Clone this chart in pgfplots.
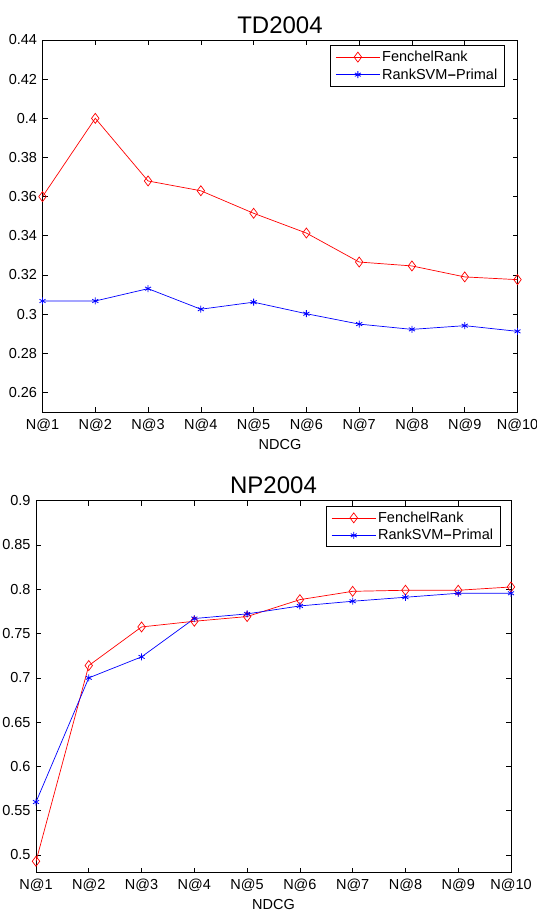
\documentclass[border=0pt]{standalone}
\usepackage{fontspec}
\setmainfont{Liberation Sans}
\usepackage{pgfplots}
\pgfplotsset{compat=1.18}

\pgfplotsset{
  ndcgstyle/.style={
    scale only axis,
    width=475bp, height=372bp,
    xmin=1, xmax=10,
    xtick={1,...,10},
    xticklabels={N@1,N@2,N@3,N@4,N@5,N@6,N@7,N@8,N@9,N@10},
    tick align=inside,
    major tick length=5bp,
    tick style={black, line width=0.6bp},
    axis line style={line width=0.9bp},
    /pgf/number format/assume math mode=true,
    yticklabel style={/pgf/number format/fixed, /pgf/number format/precision=2, xshift=-2bp},
    xticklabel style={yshift=-3bp},
    tick label style={font=\fontsize{14.5bp}{16bp}\selectfont},
    label style={font=\fontsize{14.5bp}{16bp}\selectfont},
    title style={font=\fontsize{24bp}{26bp}\selectfont, yshift=-3bp},
    xlabel={NDCG},
    xlabel style={yshift=-1bp},
    legend style={draw=black, line width=0.9bp, font=\fontsize{14.5bp}{17bp}\selectfont,
      inner xsep=5bp, inner ysep=3.5bp, row sep=1.5bp},
    legend cell align=left,
    legend image code/.code={
      \draw[mark repeat=2, mark phase=2, #1] plot coordinates {(0bp,0bp) (22bp,0bp) (44bp,0bp)};
    },
  },
  fenchel/.style={color=red, line width=0.7bp, mark=diamond, mark size=5bp, mark options={solid, line width=0.7bp}},
  ranksvm/.style={color=blue, line width=0.7bp, mark=asterisk, mark size=3.5bp, mark options={solid, line width=0.8bp}},
}

\begin{document}
\begin{tikzpicture}
\useasboundingbox (0bp,0bp) rectangle (537bp,-911bp);

\begin{axis}[ndcgstyle,
  at={(42.5bp,-412bp)}, anchor=south west,
  title={TD2004},
  ymin=0.25, ymax=0.44,
  ytick={0.26,0.28,0.30,0.32,0.34,0.36,0.38,0.40,0.42,0.44},
  legend style={at={(axis description cs:0.973,0.986)}, anchor=north east},
]
\addplot[fenchel] coordinates {
  (1,0.360)(2,0.400)(3,0.368)(4,0.363)(5,0.3515)(6,0.3414)(7,0.3266)(8,0.3246)(9,0.3190)(10,0.3176)
};
\addlegendentry{FenchelRank}
\addplot[ranksvm] coordinates {
  (1,0.3067)(2,0.3067)(3,0.3130)(4,0.3025)(5,0.3061)(6,0.3002)(7,0.2949)(8,0.2922)(9,0.2941)(10,0.2912)
};
\addlegendentry{RankSVM\kern0.3bp\textbf{--}\kern0.3bp Primal}
\end{axis}

\begin{axis}[ndcgstyle,
  at={(36bp,-872.7bp)}, anchor=south west,
  title={NP2004},
  ymin=0.48, ymax=0.9,
  ytick={0.5,0.55,0.6,0.65,0.7,0.75,0.8,0.85,0.9},
  legend style={at={(axis description cs:0.978,0.986)}, anchor=north east},
]
\addplot[fenchel] coordinates {
  (1,0.4929)(2,0.7139)(3,0.7575)(4,0.7639)(5,0.7692)(6,0.7883)(7,0.7977)(8,0.7989)(9,0.7989)(10,0.8026)
};
\addlegendentry{FenchelRank}
\addplot[ranksvm] coordinates {
  (1,0.5598)(2,0.7000)(3,0.7237)(4,0.7670)(5,0.7722)(6,0.7812)(7,0.7865)(8,0.7910)(9,0.7955)(10,0.7955)
};
\addlegendentry{RankSVM\kern0.3bp\textbf{--}\kern0.3bp Primal}
\end{axis}
\end{tikzpicture}
\end{document}
